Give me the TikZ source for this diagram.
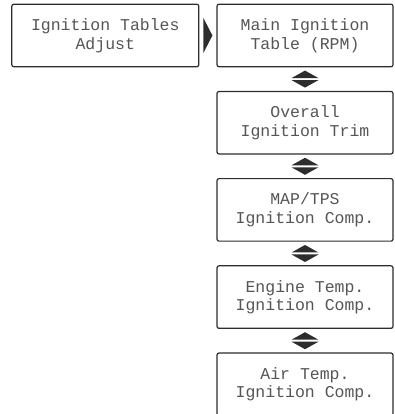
\documentclass[tikz,border=0pt]{standalone}
\usepackage{fontspec}
\setmonofont{Liberation Mono}
\usetikzlibrary{positioning, calc}
\definecolor{lcdgray}{RGB}{85, 85, 85}
\definecolor{framegray}{RGB}{45, 45, 45}

\tikzset{
  menubox/.style={draw=framegray, line width=1.2pt, rounded corners=2pt,
    minimum width=176pt, minimum height=62.5pt, align=center,
    text=lcdgray, font=\ttfamily\fontsize{16.5}{18.5}\selectfont},
  updown/.style={fill=framegray, draw=none}
}

\begin{document}
\begin{tikzpicture}[x=1pt, y=1pt, node distance=23.5pt]
  \useasboundingbox (0,0) rectangle (394,414);

  % submenu column
  \node[menubox] (main) at (305,378.5) {Main Ignition\\Table (RPM)};
  \node[menubox, below=of main] (trim) {Overall\\Ignition Trim};
  \node[menubox, below=of trim] (maptps) {MAP/TPS\\Ignition Comp.};
  \node[menubox, below=of maptps] (engtemp) {Engine Temp.\\Ignition Comp.};
  \node[menubox, below=of engtemp] (airtemp) {Air Temp.\\Ignition Comp.};

  % top menu entry
  \node[menubox, minimum width=187pt, left=17pt of main] (adjust) {Ignition Tables\\Adjust};

  % pointer into the submenu
  \fill[framegray] ($(adjust.east)+(4pt,17.5pt)$) -- ($(adjust.east)+(13pt,0pt)$)
    -- ($(adjust.east)+(4pt,-17.5pt)$) -- cycle;

  % up/down marks between the entries
  \foreach \a/\b in {main/trim, trim/maptps, maptps/engtemp, engtemp/airtemp} {
    \coordinate (mid) at ($(\a.south)!0.5!(\b.north)$);
    \fill[updown] ($(mid)+(-13.5pt,1pt)$) -- ($(mid)+(0pt,8.5pt)$) -- ($(mid)+(13.5pt,1pt)$) -- cycle;
    \fill[updown] ($(mid)+(-13.5pt,-1pt)$) -- ($(mid)+(0pt,-8.5pt)$) -- ($(mid)+(13.5pt,-1pt)$) -- cycle;
  }
\end{tikzpicture}
\end{document}
